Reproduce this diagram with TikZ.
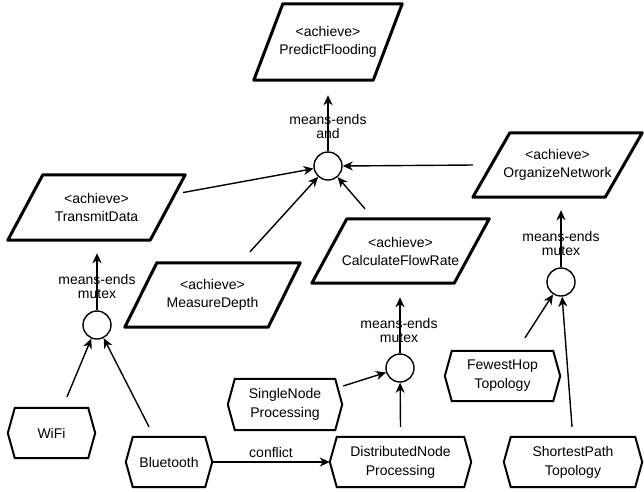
\documentclass[tikz,border=0pt]{standalone}
\usepackage{fontspec}
\setmainfont{Liberation Sans}
\usetikzlibrary{arrows.meta}
\newcommand\parabox[2]{%
  \draw[parashape] ([xshift=#2pt]#1.north west) -- (#1.north east) -- ([xshift=-#2pt]#1.south east) -- (#1.south west) -- cycle;}
\newcommand\hexbox[1]{%
  \draw[hexshape] (#1.west) -- ([xshift=7pt]#1.north west) -- ([xshift=-7pt]#1.north east) -- (#1.east) -- ([xshift=-7pt]#1.south east) -- ([xshift=7pt]#1.south west) -- cycle;}
\begin{document}
\begin{tikzpicture}[x=1pt,y=-1pt,
  goal/.style={draw=none, inner sep=0pt, align=center, font=\fontsize{14}{18}\selectfont},
  task/.style={draw=none, inner sep=0pt, align=center, font=\fontsize{14}{19}\selectfont},
  parashape/.style={line width=3pt, line join=round},
  hexshape/.style={line width=2pt, line join=miter},
  circ/.style={circle, draw, line width=1.4pt, minimum size=28pt, inner sep=0pt},
  lbl/.style={inner sep=0pt, align=center, font=\fontsize{14}{14}\selectfont},
  arr/.style={line width=1.4pt, -{Stealth[length=10pt,width=9pt,inset=3pt]}},
  ]
\fill[white] (0,0) rectangle (644,491);
\useasboundingbox (0,0) rectangle (644,491);

% goals
\node[goal, minimum width=148pt, minimum height=76pt] (PF) at (328,42) {<achieve>\\PredictFlooding};
\node[goal, minimum width=177pt, minimum height=65pt] (TD) at (96.5,207.5) {<achieve>\\TransmitData};
\node[goal, minimum width=175pt, minimum height=64pt] (MD) at (212.5,295) {<achieve>\\MeasureDepth};
\node[goal, minimum width=177pt, minimum height=64pt] (CFR) at (400.5,251) {<achieve>\\CalculateFlowRate};
\node[goal, minimum width=169pt, minimum height=64pt] (ON) at (557.5,165) {<achieve>\\OrganizeNetwork};
\parabox{PF}{29}
\parabox{TD}{35}
\parabox{MD}{32}
\parabox{CFR}{35}
\parabox{ON}{37}

% tasks
\node[task, minimum width=87pt, minimum height=50pt] (WiFi) at (51.5,433) {WiFi};
\node[task, minimum width=86pt, minimum height=50pt] (BT) at (169,462) {Bluetooth};
\node[task, minimum width=114pt, minimum height=51pt] (SNP) at (285,404.5) {SingleNode\\Processing};
\node[task, minimum width=141pt, minimum height=50pt] (DNP) at (400.5,462) {DistributedNode\\Processing};
\node[task, minimum width=115pt, minimum height=50pt] (FHT) at (502.5,376) {FewestHop\\Topology};
\node[task, minimum width=138pt, minimum height=50pt] (SPT) at (573,462) {ShortestPath\\Topology};
\hexbox{WiFi}
\hexbox{BT}
\hexbox{SNP}
\hexbox{DNP}
\hexbox{FHT}
\hexbox{SPT}

% decomposition circles
\node[circ] (c1) at (328,166) {};
\node[circ] (c2) at (97,325) {};
\node[circ] (c3) at (400,368) {};
\node[circ] (c4) at (561,282) {};

% connectors
\draw[arr] (c1.north) -- ([shift={(0,15)}]PF.south);
\draw[arr] ([shift={(-2,-15)}]TD.east) -- (c1);
\draw[arr] ([shift={(37.5,-11)}]MD.north) -- (c1);
\draw[arr] ([shift={(-35.5,-10)}]CFR.north) -- (c1);
\draw[arr] (ON.west) -- (c1.east);

\draw[arr] (c2.north) -- ([shift={(0.5,13)}]TD.south);
\draw[arr] ([shift={(15.5,-11)}]WiFi.north) -- (c2);
\draw[arr] ([shift={(-20,-10)}]BT.north) -- (c2);

\draw[arr] (c3.north) -- ([shift={(-0.5,14)}]CFR.south);
\draw[arr] ([shift={(1,-18.5)}]SNP.east) -- (c3);
\draw[arr] ([shift={(0,-10)}]DNP.north) -- (c3);

\draw[arr] (c4.north) -- ([shift={(3.5,13)}]ON.south);
\draw[arr] ([shift={(22.5,-13)}]FHT.north) -- (c4);
\draw[arr] ([shift={(-1,-10)}]SPT.north) -- (c4);

\draw[arr] (BT.east) -- (DNP.west) node[lbl, midway, above=4pt] (cf) {conflict};

% labels
\node[lbl] (l1) at (328,126.5) {means-ends\\and};
\node[lbl] (l2) at (97,286) {means-ends\\mutex};
\node[lbl] (l3) at (399,330) {means-ends\\mutex};
\node[lbl] (l4) at (561,243.5) {means-ends\\mutex};
\end{tikzpicture}
\end{document}
